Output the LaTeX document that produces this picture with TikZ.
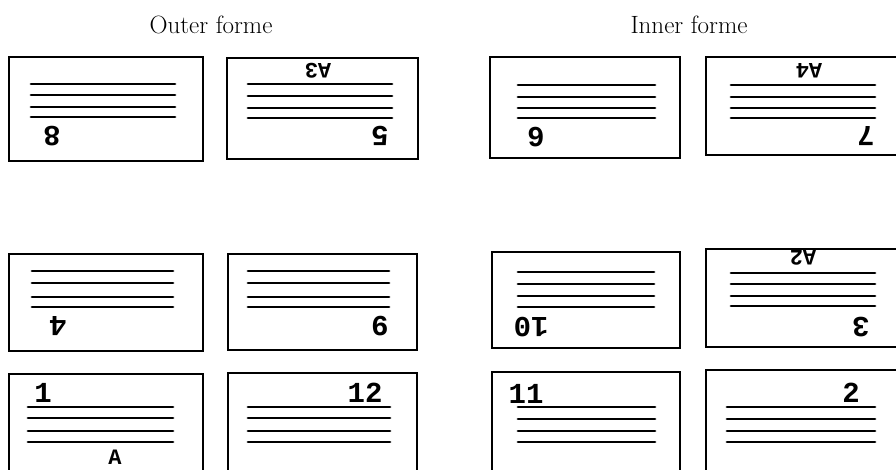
\documentclass[tikz,border=0pt]{standalone}
\usepackage{fontspec}
\newfontfamily\foliofont{Liberation Mono}
\tikzset{
  pagebox/.style={draw, line width=2.4pt, inner sep=0pt},
  textrule/.style={line width=2.8pt, line cap=round},
  folio/.style={font=\foliofont\bfseries\fontsize{29}{29}\selectfont, inner sep=0pt},
  sig/.style={font=\foliofont\bfseries\fontsize{22}{22}\selectfont, inner sep=0pt},
  flipped/.style={rotate=180},
  title/.style={font=\fontsize{25}{25}\selectfont, inner sep=0pt}
}
\begin{document}
\begin{tikzpicture}[x=1pt,y=-1pt]
\useasboundingbox (0,0) rectangle (896,469);
\clip (0,0) rectangle (896,469);
\fill[white] (0,0) rectangle (896,469);

% titles
\node[title] (tout) at (211,25) {Outer forme};
\node[title] (tin) at (689,25) {Inner forme};

% ---------- Outer forme ----------
% page 8 (inverted)
\draw[pagebox] (9,57) rectangle (203,161);
\foreach \yy in {84,95,107,117} \draw[textrule] (31,\yy) -- (175,\yy);
\node[folio,flipped] (f8) at (52,136) {8};
% page 5 (inverted)
\draw[pagebox] (227,58) rectangle (418,159);
\foreach \yy in {84,96,108,118} \draw[textrule] (248,\yy) -- (392,\yy);
\node[sig,flipped] (sA3) at (318,71) {A3};
\node[folio,flipped] (f5) at (380,136) {5};
% page 4 (inverted)
\draw[pagebox] (9,254) rectangle (203,351);
\foreach \yy in {271,283,297,307} \draw[textrule] (32,\yy) -- (173,\yy);
\node[folio,flipped] (f4) at (58,326) {4};
% page 9 (inverted)
\draw[pagebox] (228,254) rectangle (417,350);
\foreach \yy in {271,283,297,307} \draw[textrule] (248,\yy) -- (389,\yy);
\node[folio,flipped] (f9) at (380,326) {9};
% page 1
\draw[pagebox] (9,374) rectangle (203,480);
\foreach \yy in {407,418,431,442} \draw[textrule] (28,\yy) -- (173,\yy);
\node[folio] (f1) at (43,393) {1};
\node[sig] (sA) at (115,457) {A};
% page 12
\draw[pagebox] (228,373) rectangle (417,480);
\foreach \yy in {407,418,431,442} \draw[textrule] (248,\yy) -- (390,\yy);
\node[folio] (f12) at (365,393) {12};

% ---------- Inner forme ----------
% page 6 (inverted)
\draw[pagebox] (490,57) rectangle (680,158);
\foreach \yy in {85,97,108,118} \draw[textrule] (518,\yy) -- (655,\yy);
\node[folio,flipped] (f6) at (536,137) {6};
% page 7 (inverted)
\draw[pagebox] (706,57) rectangle (905,155);
\foreach \yy in {85,97,108,118} \draw[textrule] (731,\yy) -- (875,\yy);
\node[sig,flipped] (sA4) at (809,71) {A4};
\node[folio,flipped] (f7) at (866,136) {7};
% page 10 (inverted)
\draw[pagebox] (492,252) rectangle (680,348);
\foreach \yy in {272,284,296,307} \draw[textrule] (518,\yy) -- (654,\yy);
\node[folio,flipped] (f10) at (531,327) {10};
% page 3 (inverted)
\draw[pagebox] (706,249) rectangle (905,347);
\foreach \yy in {273,284,296,306} \draw[textrule] (731,\yy) -- (875,\yy);
\node[sig,flipped] (sA2) at (803,258) {A2};
\node[folio,flipped] (f3) at (861,327) {3};
% page 11
\draw[pagebox] (492,372) rectangle (680,480);
\foreach \yy in {407,419,431,442} \draw[textrule] (518,\yy) -- (655,\yy);
\node[folio] (f11) at (526,394) {11};
% page 2
\draw[pagebox] (706,370) rectangle (905,480);
\foreach \yy in {407,419,431,442} \draw[textrule] (727,\yy) -- (875,\yy);
\node[folio] (f2) at (851,393) {2};
\end{tikzpicture}
\end{document}
